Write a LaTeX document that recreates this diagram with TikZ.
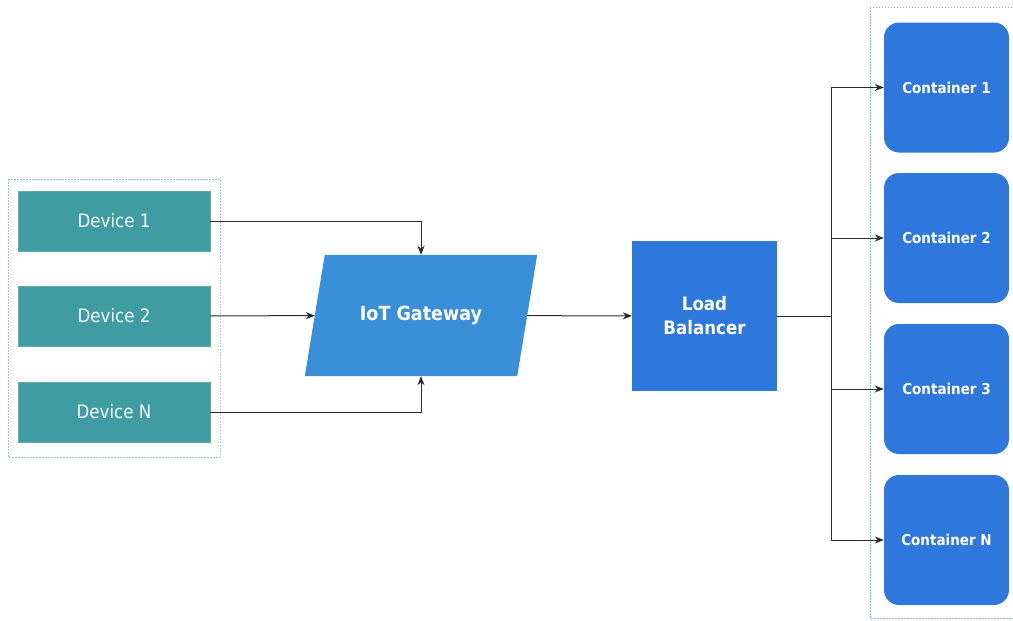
\documentclass[tikz,border=0pt]{standalone}
\usepackage{fontspec}
\setmainfont{DejaVu Sans Condensed}
\usetikzlibrary{arrows.meta,backgrounds}
\definecolor{devteal}{HTML}{409CA3}
\definecolor{gwblue}{HTML}{3A8FD9}
\definecolor{boxblue}{HTML}{2E77DD}
\definecolor{linegray}{HTML}{2A2A2A}
\tikzset{
  device/.style={draw=devteal!85!white, fill=devteal, minimum width=192pt, minimum height=60pt,
    text=white!94!devteal, font=\fontsize{18.5}{22}\selectfont},
  gateway/.style={minimum width=212pt, minimum height=121pt,
    text=white, font=\bfseries\fontsize{19.5}{24}\selectfont},
  balancer/.style={fill=boxblue, minimum width=145pt, minimum height=150pt, align=center,
    text=white, font=\bfseries\fontsize{18.5}{24}\selectfont},
  container/.style={fill=boxblue, rounded corners=15pt, minimum width=125pt, minimum height=130pt,
    text=white, font=\bfseries\fontsize{15}{18}\selectfont},
  group/.style={dash pattern=on 1.5pt off 1.5pt, line width=0.9pt},
  link/.style={draw=linegray, line width=1pt},
  arr/.style={link, -{Stealth[length=9pt,width=7pt]}}
}
\begin{document}
\begin{tikzpicture}[x=1pt,y=1pt]
	\useasboundingbox (0,0) rectangle (1013,-621);
	% groups
	\draw[group, draw=devteal!55!white] (8,-179) rectangle (220,-457);
	\draw[group, draw=boxblue!55!white] (870,-7) rectangle (1020,-618);
	% devices
	\node[device] (d1) at (114,-221) {Device 1};
	\node[device] (d2) at (114,-316) {Device 2};
	\node[device] (dn) at (114,-412) {Device N};
	% gateway and balancer
	\node[gateway] (gw) at (421,-315.5) {IoT Gateway};
	\begin{scope}[on background layer]
		\fill[gwblue] ([xshift=10pt]gw.north west) -- ([xshift=10pt]gw.north east)
			-- ([xshift=-10pt]gw.south east) -- ([xshift=-10pt]gw.south west) -- cycle;
	\end{scope}
	\node[balancer] (lb) at (704.5,-316) {Load\\Balancer};
	% containers
	\node[container] (c1) at (946.5,-87.5) {Container 1};
	\node[container] (c2) at (946.5,-238) {Container 2};
	\node[container] (c3) at (946.5,-389) {Container 3};
	\node[container] (cn) at (946.5,-540) {Container N};
	\coordinate (split) at (831,-316);
	% connectors
	\path[arr] (d1) -| (gw);
	\path[arr] (d2) -- (gw);
	\path[arr] (dn) -| (gw);
	\path[arr] (gw) -- (lb);
	\path[link] (lb) -- (split);
	\path[arr] (split) |- (c1);
	\path[arr] (split) |- (c2);
	\path[arr] (split) |- (c3);
	\path[arr] (split) |- (cn);
\end{tikzpicture}
\end{document}
